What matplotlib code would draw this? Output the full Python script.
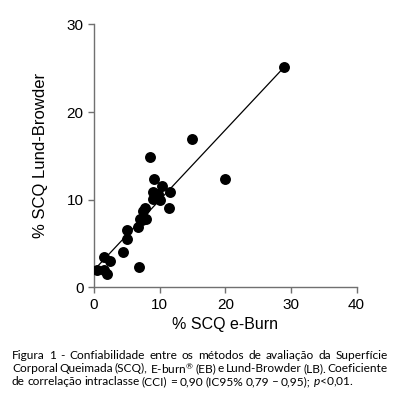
import numpy as np
import matplotlib.pyplot as plt

# % SCQ values
eburn = [0.5, 1.5, 2.0, 1.5, 2.5, 4.5, 5.0, 5.0, 6.7, 7.0, 6.9, 7.3, 8.0, 7.5,
         7.8, 8.6, 9.0, 9.0, 9.5, 9.8, 10.0, 10.3, 9.1, 11.6, 11.5, 15.0, 20.0, 28.9]
lund = [2.0, 2.0, 1.45, 3.45, 3.0, 4.0, 5.5, 6.5, 6.9, 7.8, 2.25, 7.7, 7.8, 8.7,
        9.0, 14.9, 10.1, 10.9, 10.3, 10.6, 10.0, 11.5, 12.4, 10.9, 9.05, 16.9, 12.4, 25.2]
xticks = [0, 10, 20, 30, 40]
yticks = [0, 10, 20, 30]

caption = [
    "Figura 1 - Confiabilidade entre os métodos de avaliação da Superfície",
    "Corporal Queimada (SCQ), E-burn$^{®}$ (EB) e Lund-Browder (LB). Coeficiente",
    "de correlação intraclasse (CCI) = 0,90 (IC95% 0,79 \u2013 0,95); $p$<0,01.",
]

plt.rcParams['font.family'] = ['Liberation Sans', 'DejaVu Sans']
plt.rcParams['mathtext.fontset'] = 'custom'
plt.rcParams['mathtext.rm'] = 'Lato'
plt.rcParams['mathtext.it'] = 'Lato:italic'

fig = plt.figure(figsize=(3.98, 3.95), dpi=100)
ax = fig.add_axes([0.236, 0.273, 0.66, 0.665])

x = np.array(eburn)
y = np.array(lund)
slope, icpt = np.polyfit(x, y, 1)
xl = np.array([x.min(), x.max()])
ax.plot(xl, icpt + slope * xl, color='black', lw=0.9, zorder=2)
ax.scatter(x, y, s=62, color='black', zorder=3, linewidths=0)

ax.set_xlim(0, 40)
ax.set_ylim(0, 30)
ax.set_xticks(xticks)
ax.set_yticks(yticks)
for s in ['top', 'right']:
    ax.spines[s].set_visible(False)
for s in ['left', 'bottom']:
    ax.spines[s].set_color('#707070')
    ax.spines[s].set_linewidth(1.0)
ax.tick_params(colors='#707070', labelcolor='black', labelsize=11, length=4, width=1.0)

ax.set_xlabel('% SCQ e-Burn', fontsize=11.5, labelpad=4)
ax.set_ylabel('% SCQ Lund-Browder', fontsize=12)
ax.yaxis.set_label_coords(-0.175, 0.5)
for sp in ax.spines.values():
    sp.set_clip_on(False)

# caption, justified between x0 and x1 (pixels) like the printed figure
W = 398.0
x0, x1 = 12.0, 388.0
renderer = fig.canvas.get_renderer()
for i, line in enumerate(caption):
    ypos = 0.099 - i * 0.033
    words = line.split(' ')
    texts = [fig.text(0, ypos, w, fontsize=8.6, family='Lato', color='black',
                      va='center', ha='left') for w in words]
    widths = [t.get_window_extent(renderer).width for t in texts]
    if i < len(caption) - 1:
        gap = (x1 - x0 - sum(widths)) / (len(words) - 1)
    else:
        gap = 2.4
    xp = x0
    for t, w in zip(texts, widths):
        t.set_x(xp / W)
        xp += w + gap

fig.savefig('out.png', dpi=100)
